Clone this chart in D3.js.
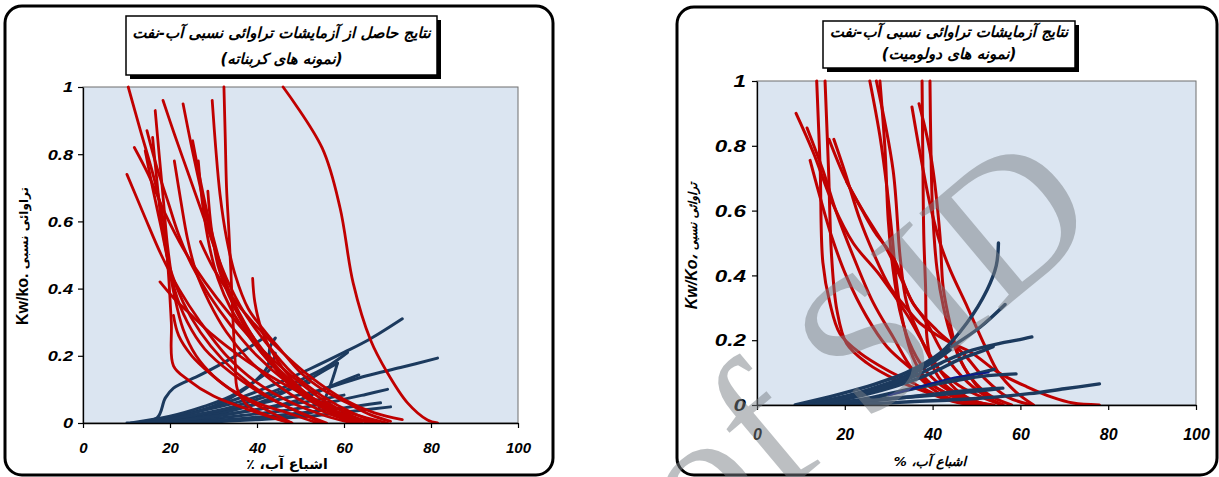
<!DOCTYPE html>
<html><head><meta charset="utf-8">
<script src="https://cdn.jsdelivr.net/npm/d3@7"></script>
<style>body{margin:0;background:#fff}</style>
</head><body>
<script>
// Axis ticks
const xTicks = [0, 20, 40, 60, 80, 100];
const yTicks = [0, 0.2, 0.4, 0.6, 0.8, 1];
const yTickLabels = ["0", "0.2", "0.4", "0.6", "0.8", "1"];

// Carbonate samples: oil curves (red), each curve is [Sw %, Kr]
const carbonateKro = [
  [[10.4,1.0],[13,0.88],[16.5,0.72],[18.5,0.6],[19.5,0.47],[20.3,0.3],[20.8,0.17],[24,0.13],[30,0.08],[38,0.04],[45,0.01],[48,0]],
  [[10.1,0.74],[14,0.62],[18,0.5],[22,0.4],[27,0.3],[33,0.2],[40,0.12],[48,0.06],[56,0.02],[62,0]],
  [[11.8,0.82],[15,0.74],[19,0.62],[23,0.52],[28,0.42],[34,0.32],[41,0.22],[48,0.14],[55,0.07],[62,0.02],[66,0]],
  [[14.3,0.81],[16,0.7],[18,0.58],[20,0.46],[23,0.36],[27,0.27],[32,0.19],[38,0.12],[45,0.06],[52,0.02],[56,0]],
  [[14.7,0.87],[17,0.76],[19.5,0.66],[22,0.56],[25,0.47],[29,0.38],[34,0.29],[40,0.2],[47,0.12],[54,0.06],[60,0.02],[64,0]],
  [[16.6,0.93],[17.5,0.8],[18.5,0.66],[19.5,0.52],[21,0.4],[24,0.3],[28,0.22],[34,0.15],[42,0.08],[50,0.03],[55,0]],
  [[18.4,0.96],[21,0.86],[24,0.75],[27,0.64],[30,0.53],[33,0.43],[37,0.33],[42,0.24],[48,0.15],[55,0.08],[62,0.03],[68,0]],
  [[21,0.78],[22.5,0.66],[24,0.55],[26,0.45],[29,0.36],[33,0.27],[38,0.19],[44,0.12],[51,0.06],[58,0.02],[63,0]],
  [[25.2,0.84],[27,0.72],[29,0.6],[31,0.5],[33,0.41],[36,0.32],[40,0.24],[45,0.16],[51,0.09],[57,0.04],[64,0.01],[68,0]],
  [[29.7,0.96],[30.5,0.82],[31.5,0.68],[33,0.55],[35,0.44],[38,0.34],[42,0.27],[45.3,0.22],[50,0.15],[55,0.1],[60.7,0.06],[66,0.025],[70.7,0.005]],
  [[32.4,1.0],[32.7,0.85],[33,0.7],[33.5,0.58],[34,0.45],[34.5,0.3],[35,0.18],[35.5,0.1],[38,0.05],[43,0.02],[48,0]],
  [[28.7,0.69],[29.5,0.58],[31,0.47],[33.5,0.38],[37,0.29],[41,0.21],[46,0.14],[52,0.08],[58,0.03],[63,0]],
  [[39,0.43],[39.5,0.36],[41,0.28],[44,0.2],[48,0.13],[53,0.07],[58,0.03],[63,0]],
  [[46,1.0],[55,0.818],[59.1,0.64],[62.1,0.417],[66.1,0.247],[70,0.149],[74.6,0.06],[79.2,0.009],[81.5,0]],
  [[27,0.54],[30,0.46],[34,0.38],[39,0.3],[45,0.22],[52,0.14],[60,0.07],[67,0.03],[73.4,0.01]],
  [[17.7,0.42],[21,0.37],[25,0.32],[30,0.26],[36,0.2],[43,0.14],[50,0.09],[57,0.05],[64,0.02],[70,0]],
  [[20.8,0.32],[22,0.26],[25,0.2],[29,0.15],[34,0.1],[40,0.06],[47,0.03],[54,0]],
  [[16,0.85],[17,0.72],[18,0.6],[19.3,0.5],[21,0.38],[23,0.28],[26,0.2],[30,0.14],[35,0.09],[42,0.04],[48,0]],
  [[23,0.95],[25,0.82],[27,0.7],[29,0.58],[31.5,0.47],[34,0.38],[37.5,0.29],[42,0.2],[47,0.12],[53,0.06],[59,0.02],[64,0]],
  [[26.5,0.78],[27.5,0.65],[29,0.53],[31,0.43],[34,0.34],[38,0.26],[43,0.18],[49,0.11],[56,0.05],[62,0.015],[66,0]]
];

// Carbonate samples: water curves (blue)
const carbonateKrw = [
  [[10.1,0],[17,0.015],[18.9,0.074],[20.8,0.104],[27,0.143],[34.6,0.196],[41.9,0.256]],
  [[12,0],[22,0.02],[30,0.05],[36,0.09],[40,0.13],[42.5,0.17],[43,0.226],[44.2,0.253]],
  [[14,0],[25,0.03],[35,0.07],[45,0.12],[52,0.16],[60,0.21],[66,0.25],[73.4,0.31]],
  [[15,0],[30,0.03],[45,0.07],[55,0.1],[65,0.14],[73,0.165],[81.5,0.193]],
  [[13,0],[25,0.03],[35,0.06],[45,0.1],[52,0.14],[57,0.175],[60.8,0.21]],
  [[16,0],[28,0.02],[38,0.05],[46,0.09],[52,0.13],[56,0.16],[58.5,0.178]],
  [[18,0],[30,0.02],[40,0.04],[50,0.07],[57,0.11],[63.4,0.143]],
  [[20,0],[35,0.02],[48,0.04],[58,0.065],[65,0.085],[70,0.1]],
  [[22,0],[38,0.015],[50,0.03],[60,0.045],[68.4,0.06]],
  [[25,0],[40,0.01],[52,0.02],[62,0.035],[70.7,0.048]],
  [[17,0],[30,0.02],[40,0.04],[50,0.06],[60,0.083]],
  [[20,0],[35,0.01],[48,0.02],[54,0.04],[56.5,0.1],[58.5,0.178]],
  [[11,0],[20,0.02],[28,0.05],[34,0.08],[39,0.12],[43,0.16],[44.2,0.208]],
  [[14,0],[24,0.02],[32,0.04],[40,0.07],[47,0.1],[52,0.12]]
];

// Dolomite samples: oil curves (red)
const dolomiteKro = [
  [[8.9,0.9],[12.8,0.78],[17.3,0.62],[21.9,0.5],[28,0.4],[34.1,0.28],[37.9,0.19],[42,0.1],[46,0.04],[50,0.01],[54,0]],
  [[11.4,0.855],[15,0.725],[18.2,0.59],[21.9,0.46],[26.5,0.315],[31,0.21],[35.5,0.108],[41,0.04],[46,0.01],[50,0]],
  [[13.6,1.0],[14.4,0.725],[15,0.44],[16.6,0.315],[18.9,0.22],[23.5,0.16],[29.6,0.108],[35.5,0.068],[41.5,0.027],[47,0.005],[50,0]],
  [[15.5,1.0],[16.3,0.725],[17,0.457],[18.2,0.293],[20.4,0.19],[25,0.13],[31.8,0.077],[38.5,0.04],[45,0.01],[50,0]],
  [[16.4,0.82],[20.4,0.69],[25,0.58],[29.6,0.48],[33.3,0.376],[35.5,0.315],[38.7,0.253],[42.4,0.16],[48,0.07],[53,0.02],[56,0]],
  [[12.1,0.755],[14.4,0.64],[17,0.52],[20.4,0.396],[25,0.272],[29.6,0.18],[35.5,0.108],[40,0.06],[46,0.02],[51,0]],
  [[25.7,1.0],[28,0.83],[29.6,0.67],[30.8,0.52],[31.8,0.376],[33.3,0.253],[35.5,0.148],[38.7,0.077],[44,0.03],[50,0.005]],
  [[28,1.0],[29.2,0.78],[29.9,0.57],[31,0.417],[32.5,0.293],[34.8,0.19],[37.8,0.117],[42,0.06],[47,0.02],[52,0]],
  [[27.2,1.0],[31,0.725],[32.6,0.457],[34.1,0.315],[37.2,0.21],[40.2,0.13],[46,0.06],[52,0.02],[56,0]],
  [[35.3,0.92],[37.1,0.78],[39.4,0.62],[41.7,0.5],[44,0.417],[48,0.3],[52,0.18],[55,0.1],[59,0.04],[63,0]],
  [[36.9,0.93],[38.7,0.83],[40.1,0.725],[41.7,0.52],[42.4,0.364],[44,0.25],[46,0.15],[49,0.08],[53,0.03],[58,0]],
  [[37.6,1.0],[37.8,0.725],[38,0.52],[38.4,0.364],[38.7,0.21],[40,0.12],[43,0.06],[48,0.02],[53,0]],
  [[39.4,1.0],[39.6,0.8],[40,0.6],[41,0.42],[42.5,0.3],[44.5,0.2],[47,0.12],[50,0.06],[53,0.02],[56,0]],
  [[17.5,0.82],[20,0.72],[23.5,0.57],[26.5,0.47],[30.3,0.364],[34,0.3],[37.1,0.253],[43,0.2],[49,0.16],[55,0.1],[61.5,0.056],[67,0.025],[72,0.006],[78,0]],
  [[20.4,0.69],[24,0.6],[27,0.53],[31,0.457],[35.5,0.315],[41,0.23],[46.9,0.16],[52,0.08],[57,0.025],[62.6,0]]
];

// Dolomite samples: water curves (blue)
const dolomiteKrw = [
  [[8.7,0],[15,0.02],[22,0.045],[28,0.07],[34,0.1],[41.7,0.16],[47.8,0.253],[52.4,0.355],[54.5,0.43],[55,0.5]],
  [[11,0],[18,0.02],[26,0.05],[34,0.09],[43.2,0.17],[50.8,0.24],[56.5,0.31]],
  [[12,0],[20,0.025],[28,0.05],[36,0.09],[42,0.13],[47.8,0.164],[55.3,0.19],[59.2,0.2],[62.6,0.21]],
  [[15,0],[25,0.02],[35,0.05],[45,0.075],[52,0.09],[59,0.096]],
  [[18,0],[28,0.015],[38,0.03],[48,0.045],[56,0.052]],
  [[20,0],[35,0.01],[50,0.02],[62,0.035],[70,0.05],[78,0.065]],
  [[14,0],[24,0.03],[32,0.06],[40,0.1],[46,0.14],[50,0.16],[53.8,0.18]],
  [[16,0],[26,0.02],[34,0.045],[42,0.07],[48,0.09],[54,0.11]],
  [[10,0],[20,0.01],[30,0.02],[40,0.03],[48,0.04],[55,0.05]],
  [[13,0],[22,0.03],[30,0.06],[36,0.1],[41,0.14],[44,0.17]]
];
const dolomiteKrwThin = [
  [[30,0.03],[38,0.06],[45,0.085],[52.8,0.1]]
];

const RED = "#c00000", BLUE = "#1c3a5e", NAVY = "#0a1a8c";
const PLOT_BG = "#dbe5f1";
const FA = "'DejaVu Sans', sans-serif";
const LAT = "'Liberation Sans', Arial, sans-serif";

const svg = d3.select("body").append("svg")
  .attr("width", 1219).attr("height", 477);

function drawChart(cfg) {
  const g = svg.append("g");
  // rounded panel frame
  g.append("rect")
    .attr("x", cfg.frame[0]).attr("y", cfg.frame[1])
    .attr("width", cfg.frame[2]).attr("height", cfg.frame[3])
    .attr("rx", 17).attr("fill", "#fff")
    .attr("stroke", "#000").attr("stroke-width", 3);

  const x = d3.scaleLinear().domain([0, 100]).range([cfg.plot[0], cfg.plot[1]]);
  const y = d3.scaleLinear().domain([0, 1]).range([cfg.plot[3], cfg.plot[2]]);

  g.append("rect")
    .attr("x", x(0)).attr("y", y(1))
    .attr("width", x(100) - x(0)).attr("height", y(0) - y(1))
    .attr("fill", PLOT_BG).attr("stroke", "#6f6f6f").attr("stroke-width", 1);

  const clipId = "clip" + cfg.id;
  svg.append("clipPath").attr("id", clipId).append("rect")
    .attr("x", x(0)).attr("y", y(1) - 2)
    .attr("width", x(100) - x(0)).attr("height", y(0) - y(1) + 2);

  const line = d3.line()
    .x(d => x(d[0])).y(d => y(d[1]))
    .curve(d3.curveCatmullRom.alpha(0.5));

  const lines = g.append("g").attr("clip-path", `url(#${clipId})`)
    .attr("fill", "none").attr("stroke-linecap", "round").attr("stroke-linejoin", "round");

  cfg.layers.forEach(layer => {
    lines.append("g").selectAll("path").data(layer.data).join("path")
      .attr("d", line)
      .attr("stroke", layer.color)
      .attr("stroke-width", layer.width);
  });

  // axes
  const xAxis = g.append("g").attr("transform", `translate(0,${y(0)})`)
    .call(d3.axisBottom(x).tickValues(xTicks).tickSize(5).tickSizeOuter(0).tickFormat(d3.format("d")));
  const yAxis = g.append("g").attr("transform", `translate(${x(0)},0)`)
    .call(d3.axisLeft(y).tickValues(yTicks).tickSize(5).tickSizeOuter(0).tickFormat((d, i) => yTickLabels[i]));
  [xAxis, yAxis].forEach(a => {
    a.attr("font-family", null).attr("font-size", null);
    a.select(".domain").attr("stroke", "#000").attr("stroke-width", 1.3);
    a.selectAll(".tick line").attr("stroke", "#000").attr("stroke-width", 1.2);
  });
  xAxis.selectAll(".tick text")
    .attr("y", cfg.xLabelDy).attr("dy", "0.35em").attr("fill", "#000")
    .style("font-family", LAT).style("font-weight", "bold").style("font-style", "italic")
    .style("font-size", cfg.xTickSize + "px");
  yAxis.selectAll(".tick text")
    .attr("x", null).attr("dy", "0.35em").attr("fill", "#000")
    .attr("transform", `translate(${cfg.yLabelDx},0) scale(${cfg.yStretch},1)`)
    .style("font-family", LAT).style("font-weight", "bold").style("font-style", "italic")
    .style("font-size", cfg.yTickSize + "px");

  // title box with drop shadow
  const tb = cfg.titleBox;
  g.append("rect").attr("x", tb[0] + 4).attr("y", tb[1] + 4)
    .attr("width", tb[2]).attr("height", tb[3]).attr("fill", "#000");
  g.append("rect").attr("x", tb[0]).attr("y", tb[1])
    .attr("width", tb[2]).attr("height", tb[3])
    .attr("fill", "#fff").attr("stroke", "#000").attr("stroke-width", 1.5);
  cfg.titleLines.forEach((t, i) => {
    g.append("text")
      .attr("x", tb[0] + tb[2] / 2).attr("y", cfg.titleY[i])
      .attr("text-anchor", "middle").attr("direction", "rtl")
      .style("font-family", FA).style("font-weight", "bold").style("font-style", "italic")
      .style("font-size", cfg.titleSize[i] + "px").text(t);
  });

  // x title
  g.append("text")
    .attr("x", cfg.xTitlePos[0]).attr("y", cfg.xTitlePos[1])
    .attr("text-anchor", "middle").attr("direction", "rtl")
    .style("font-family", FA).style("font-weight", "bold")
    .style("font-style", cfg.xTitleItalic ? "italic" : "normal")
    .style("font-size", cfg.xTitleSize + "px").text(cfg.xTitle);

  // y title (rotated)
  const yt = g.append("text")
    .attr("transform", `translate(${cfg.yTitlePos[0]},${cfg.yTitlePos[1]}) rotate(-90)`)
    .attr("text-anchor", "middle").style("font-weight", "bold")
    .style("font-style", cfg.yTitleItalic ? "italic" : "normal");
  yt.append("tspan").style("font-family", LAT).style("font-size", "16px").text(cfg.yTitleLatin);
  yt.append("tspan").style("font-family", FA).style("font-size", "12px").text(" " + cfg.yTitleFa);
  return g;
}

drawChart({
  id: "carb",
  frame: [5, 6, 548, 469],
  plot: [83, 518, 87, 423],
  layers: [
    { data: carbonateKrw, color: BLUE, width: 3 },
    { data: carbonateKro, color: RED, width: 2.8 }
  ],
  xLabelDy: 25, xTickSize: 15,
  yLabelDx: -10, yStretch: 1.3, yTickSize: 14,
  titleBox: [126, 16, 311, 59],
  titleLines: ["نتایج حاصل از آزمایشات تراوائی نسبی آب-نفت", "(نمونه های کربناته)"],
  titleY: [38, 64], titleSize: [15, 15],
  xTitle: "اشباع آب، ٪", xTitlePos: [287, 469], xTitleSize: 14, xTitleItalic: false,
  yTitleLatin: "Kw/ko.", yTitleFa: "تراوائی نسبی", yTitlePos: [28, 256], yTitleItalic: false
});

drawChart({
  id: "dolo",
  frame: [677, 7, 540, 468],
  plot: [757, 1196, 81, 405],
  layers: [
    { data: dolomiteKro, color: RED, width: 3 },
    { data: dolomiteKrw, color: BLUE, width: 3.4 },
    { data: dolomiteKrwThin, color: NAVY, width: 1.8 }
  ],
  xLabelDy: 29, xTickSize: 16,
  yLabelDx: -11, yStretch: 1.4, yTickSize: 16,
  titleBox: [823, 21, 252, 47],
  titleLines: ["نتایج آزمایشات تراوائی نسبی آب-نفت", "(نمونه های دولومیت)"],
  titleY: [37, 59], titleSize: [15, 15],
  xTitle: "اشباع آب، %", xTitlePos: [930, 466], xTitleSize: 13, xTitleItalic: true,
  yTitleLatin: "Kw/Ko،", yTitleFa: "تراوائی نسبی", yTitlePos: [697, 246], yTitleItalic: true
});

// archive watermark across the dolomite panel
svg.append("text")
  .attr("transform", "translate(1105,224) rotate(-40)")
  .attr("text-anchor", "end")
  .style("font-family", "'Liberation Serif', serif")
  .style("font-size", "195px").attr("fill", "#7a7f85").attr("fill-opacity", 0.5)
  .text("of SID");
</script>
</body></html>
